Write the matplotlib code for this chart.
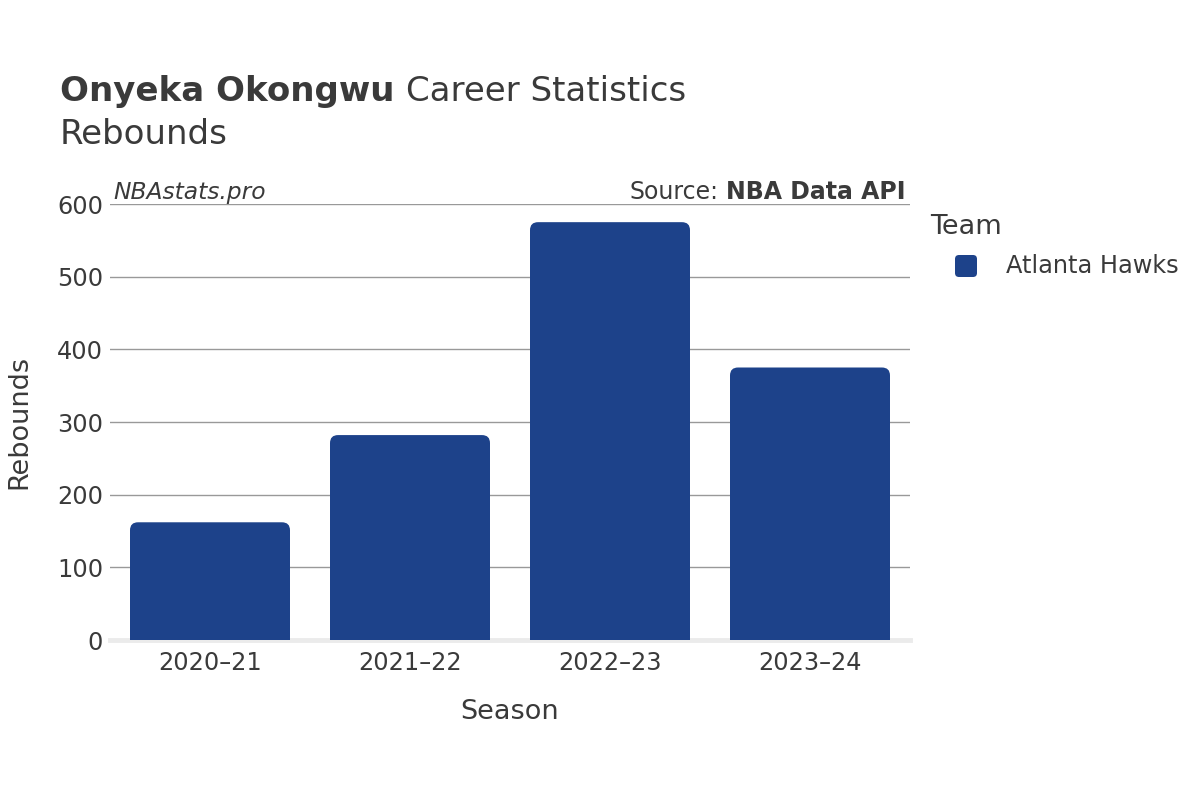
import matplotlib.pyplot as plt
from matplotlib.patches import FancyBboxPatch
from matplotlib.transforms import IdentityTransform

# Data
seasons = ["2020–21", "2021–22", "2022–23", "2023–24"]
rebounds = [162, 282, 575, 375]
team = "Atlanta Hawks"
bar_color = "#1d428a"
text_color = "#3a3a3a"

plt.rcParams['font.family'] = ['DejaVu Sans']

W, H = 1200, 800
fig = plt.figure(figsize=(12, 8), dpi=100)
ax = fig.add_axes([110 / W, 1 - 640 / H, 800 / W, 436 / H])

bars = ax.bar(range(len(seasons)), rebounds, width=0.8, color=bar_color, zorder=3)

# swap plain bars for ones with rounded top corners
rx, ry = 0.04, 11
for b in bars:
    x, w, h = b.get_x(), b.get_width(), b.get_height()
    b.set_visible(False)
    ax.add_patch(FancyBboxPatch((x, -ry), w, h + ry,
                                boxstyle=f"round,pad=0,rounding_size={rx}",
                                mutation_aspect=ry / rx,
                                facecolor=bar_color, edgecolor="none", zorder=3))

ax.set_xlim(-0.5, len(seasons) - 0.5)
ax.set_ylim(0, 600)
ax.set_yticks(range(0, 601, 100))
ax.set_xticks(range(len(seasons)))
ax.set_xticklabels(seasons)
ax.tick_params(axis='both', length=0, labelsize=17.3, labelcolor=text_color)
ax.tick_params(axis='x', pad=8)
ax.tick_params(axis='y', pad=5)
for s in ax.spines.values():
    s.set_visible(False)
ax.grid(axis='y', color='#999999', lw=1, zorder=0)
ax.axhline(0, color='#ebebeb', lw=3.5, zorder=2, clip_on=False)

ax.set_xlabel("Season", fontsize=19.5, color=text_color, labelpad=17)
ax.set_ylabel("Rebounds", fontsize=19.5, color=text_color, labelpad=18)

# titles
t1 = fig.text(60 / W, 1 - 101 / H, "Onyeka Okongwu", fontsize=24.5, fontweight='bold',
              color=text_color, va='baseline')
fig.canvas.draw()
bb = t1.get_window_extent()
fig.text((bb.x1 + 11) / W, 1 - 101 / H, "Career Statistics", fontsize=24.5,
         color=text_color, va='baseline')
fig.text(60 / W, 1 - 144 / H, "Rebounds", fontsize=24.5, color=text_color, va='baseline')

# watermark / source
ax.text(0.004, 1.0, "NBAstats.pro", transform=ax.transAxes, fontsize=16.8,
        style='italic', color=text_color, va='bottom', ha='left')
src = ax.text(0.995, 1.0, "NBA Data API", transform=ax.transAxes, fontsize=17,
              fontweight='bold', color=text_color, va='bottom', ha='right')
fig.canvas.draw()
sb = src.get_window_extent()
fig.text((sb.x0 - 8) / W, sb.y0 / H, "Source:", fontsize=17, color=text_color,
         va='bottom', ha='right')

# legend, drawn by hand to match the indented swatch
fig.text(930 / W, 1 - 227 / H, "Team", fontsize=19.5, color=text_color, va='center', ha='left')
fig.patches.append(FancyBboxPatch((955, H - 277), 22, 22,
                                  boxstyle="round,pad=0,rounding_size=4",
                                  facecolor=bar_color, edgecolor="none",
                                  transform=IdentityTransform(), figure=fig))
fig.text(1006 / W, 1 - 266 / H, team, fontsize=17.3, color=text_color, va='center', ha='left')

fig.savefig("out.png", dpi=100, facecolor='white')
